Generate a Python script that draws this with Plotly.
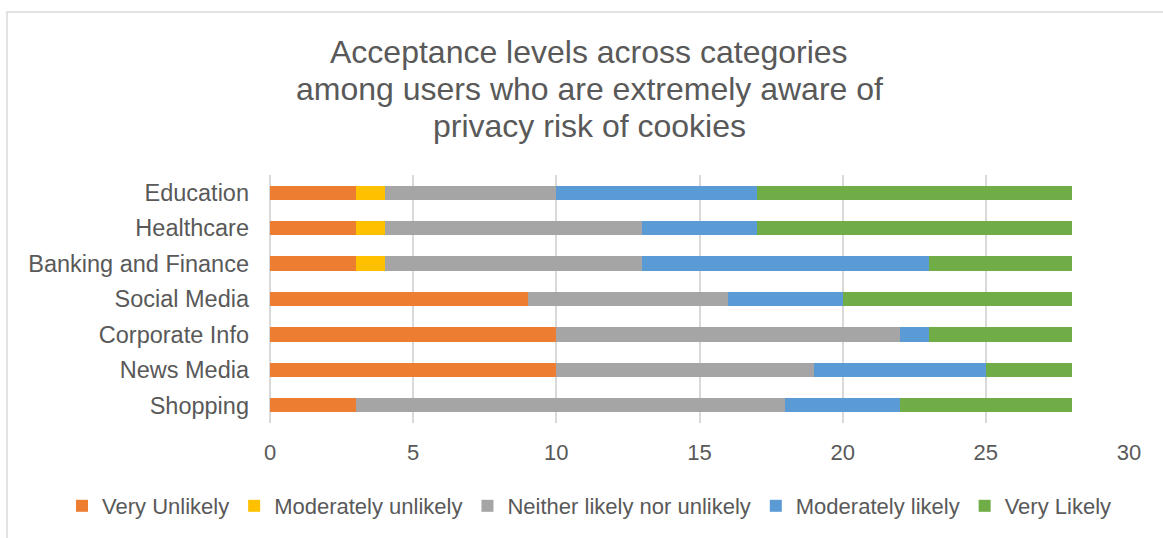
import plotly.graph_objects as go

categories = ["Education", "Healthcare", "Banking and Finance", "Social Media",
              "Corporate Info", "News Media", "Shopping"]
very_unlikely = [3, 3, 3, 9, 10, 10, 3]
moderately_unlikely = [1, 1, 1, 0, 0, 0, 0]
neither = [6, 9, 9, 7, 12, 9, 15]
moderately_likely = [7, 4, 10, 4, 1, 6, 4]
very_likely = [11, 11, 5, 8, 5, 3, 6]
title_lines = ["Acceptance levels across categories",
               "among users who are extremely aware of",
               "privacy risk of cookies"]

series = [
    ("Very Unlikely", very_unlikely, "#ED7D31"),
    ("Moderately unlikely", moderately_unlikely, "#FFC000"),
    ("Neither likely nor unlikely", neither, "#A5A5A5"),
    ("Moderately likely", moderately_likely, "#5B9BD5"),
    ("Very Likely", very_likely, "#70AD47"),
]

FONT = "Liberation Sans, Arial, sans-serif"
TXT = "#595959"

fig = go.Figure()
for name, vals, col in series:
    fig.add_trace(go.Bar(y=categories, x=vals, name=name, orientation="h",
                         marker=dict(color=col, line=dict(width=0))))

W, H = 1163, 538
L, R, T, B = 270, 34, 175, 115
pw, ph = W - L - R, H - T - B

def px_x(x):
    return (x - L) / pw

def px_y(y):
    return (H - B - y) / ph

title_y = [52, 89, 126]
annotations = [
    dict(text=t, xref="paper", yref="paper", x=px_x(589), y=px_y(yy),
         xanchor="center", yanchor="middle", showarrow=False,
         font=dict(size=32, color=TXT, family=FONT))
    for t, yy in zip(title_lines, title_y)
]

fig.update_layout(
    width=W, height=H,
    barmode="stack", bargap=0.6,
    paper_bgcolor="white", plot_bgcolor="white",
    margin=dict(l=L, r=R, t=T, b=B, autoexpand=False),
    font=dict(family=FONT, color=TXT),
    annotations=annotations,
    legend=dict(orientation="h", traceorder="normal",
                x=px_x(62), xanchor="left",
                y=px_y(506), yanchor="middle",
                font=dict(size=22, color=TXT, family=FONT),
                itemwidth=30, itemclick=False, bgcolor="rgba(0,0,0,0)"),
    xaxis=dict(range=[0, 30], tickvals=[0, 5, 10, 15, 20, 25, 30],
               showgrid=True, gridcolor="#D9D9D9", gridwidth=1.5,
               zeroline=True, zerolinecolor="#D9D9D9", zerolinewidth=1.5,
               showline=False, ticks="", ticklabelstandoff=14,
               tickfont=dict(size=22, color=TXT, family=FONT)),
    yaxis=dict(autorange="reversed", showgrid=False, zeroline=False, showline=False,
               ticks="", ticklabelstandoff=20,
               tickfont=dict(size=23.5, color=TXT, family=FONT)),
    shapes=[dict(type="rect", xref="paper", yref="paper",
                 x0=px_x(7), x1=px_x(W + 5), y0=px_y(H + 5), y1=px_y(12),
                 line=dict(color="#D9D9D9", width=1.5), fillcolor="rgba(0,0,0,0)",
                 layer="below")],
)

fig.write_html("out.html")
